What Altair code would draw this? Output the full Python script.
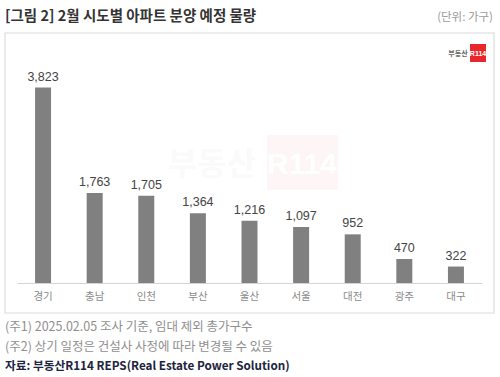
import altair as alt
import pandas as pd

regions = ["경기", "충남", "인천", "부산", "울산", "서울", "대전", "광주", "대구"]
values = [3823, 1763, 1705, 1364, 1216, 1097, 952, 470, 322]

title_text = "[그림 2] 2월 시도별 아파트 분양 예정 물량"
unit_text = "(단위: 가구)"
note1 = "(주1) 2025.02.05 조사 기준, 임대 제외 총가구수"
note2 = "(주2) 상기 일정은 건설사 사정에 따라 변경될 수 있음"
source = "자료: 부동산R114 REPS(Real Estate Power Solution)"

df = pd.DataFrame({"region": regions, "value": values})
df["label"] = [f"{v:,}" for v in values]

KR = "Noto Sans CJK KR"
NUM = "Liberation Sans"

base = alt.Chart(df)

xenc = alt.X("region:N", sort=regions,
             scale=alt.Scale(paddingInner=0.69, paddingOuter=0.35),
             axis=alt.Axis(title=None, labelAngle=0, ticks=False, domainColor="#d4d4d4",
                           labelColor="#8a8a8a", labelFont=KR, labelFontSize=10.5,
                           labelPadding=8))
yenc = alt.Y("value:Q", scale=alt.Scale(domain=[0, 4350]), axis=None)

bars = base.mark_bar(color="#808080").encode(x=xenc, y=yenc)
labels = base.mark_text(dy=-11, font=NUM, fontSize=12.5, color="#444444").encode(
    x=alt.X("region:N", sort=regions), y="value:Q", text="label:N")

def txt(t, x, y, **kw):
    return alt.Chart(pd.DataFrame({"t": [t]})).mark_text(**kw).encode(
        x=alt.value(x), y=alt.value(y), text="t:N")

frame = alt.Chart(pd.DataFrame({"a": [0]})).mark_rect(
    fill=None, stroke="#dcdcdc", strokeWidth=1.2).encode(
    x=alt.value(-12), x2=alt.value(477), y=alt.value(-20), y2=alt.value(260))

wm_box = alt.Chart(pd.DataFrame({"a": [0]})).mark_rect(fill="#fef6f6").encode(
    x=alt.value(250), x2=alt.value(321), y=alt.value(82), y2=alt.value(137))
wm_text = txt("부동산", 195, 112, font=KR, fontSize=32, fontWeight="bold", color="#fafafa")
wm_r = txt("R114", 285, 112, font=NUM, fontSize=30, fontWeight="bold", color="#ffffff")

logo_box = alt.Chart(pd.DataFrame({"a": [0]})).mark_rect(fill="#e8262b").encode(
    x=alt.value(453), x2=alt.value(469), y=alt.value(-9), y2=alt.value(9))
logo_r = txt("R114", 461, 0.5, font=NUM, fontSize=7, fontWeight="bold", color="#ffffff")
logo_t = txt("부동산", 441, 0.5, font=KR, fontSize=7, fontWeight="bold", color="#666666")

title = txt(title_text, -12, -36, font=KR, fontSize=14.5, fontWeight="bold", color="#333333", align="left")
unit = txt(unit_text, 476, -35, font=KR, fontSize=11.5, color="#9a9a9a", align="right")
n1 = txt(note1, -12, 274, font=KR, fontSize=12.5, color="#8f8f8f", align="left")
n2 = txt(note2, -12, 294, font=KR, fontSize=12.5, color="#8f8f8f", align="left")
src = txt(source, -12, 313, font=KR, fontSize=11.7, fontWeight="bold", color="#1c2440", align="left")

chart = alt.layer(frame, wm_box, wm_text, wm_r, logo_box, logo_r, logo_t,
                  bars, labels, title, unit, n1, n2, src).properties(
    width=465, height=230,
    autosize=alt.AutoSizeParams(type="none"),
    padding={"left": 17, "top": 53, "right": 18, "bottom": 94},
    background="white",
).configure_view(stroke=None)

chart.save("out.html", embed_options={"renderer": "svg", "actions": False})
